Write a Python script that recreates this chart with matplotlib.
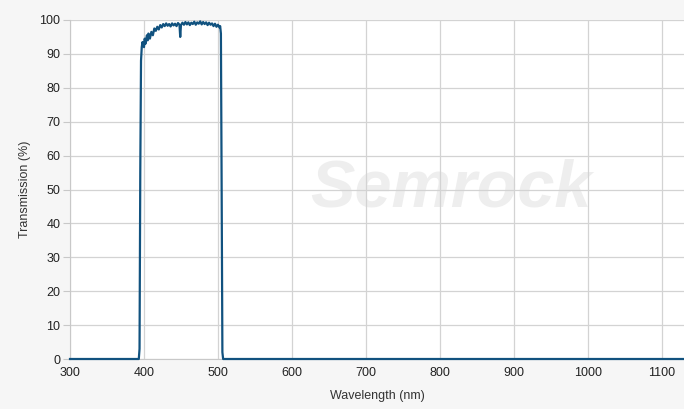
import matplotlib
matplotlib.use("Agg")
import matplotlib.pyplot as plt

# wavelength (nm) and transmission (%)
wavelength = [300, 393, 394, 395, 396, 397, 398, 400, 401, 402, 404, 405, 406,
              408, 410, 412, 414, 416, 418, 420, 422, 424, 426, 428, 430, 432,
              434, 436, 438, 440, 442, 444, 446, 448, 449, 450, 452, 454, 456,
              458, 460, 462, 464, 466, 468, 470, 472, 474, 476, 478, 480, 482,
              484, 486, 488, 490, 492, 494, 496, 498, 500, 502, 503, 504, 505,
              506, 507, 1130]
transmission = [0, 0, 3, 55, 88, 92, 93.5, 92, 94.5, 93, 95.5, 94, 96,
                94.5, 96.5, 95.5, 97.5, 96.8, 98, 97.2, 98.5, 97.8, 98.8, 98.2, 99, 98.3,
                98.8, 98.1, 99, 98.4, 98.9, 98.2, 99.1, 98.6, 95, 98.5, 99.2, 98.6, 99.4,
                98.7, 99.3, 98.5, 99.2, 98.8, 99.5, 98.6, 99.3, 98.9, 99.6, 98.7, 99.4, 98.8,
                99.3, 98.5, 99.2, 98.6, 99.0, 98.2, 98.9, 98.0, 98.6, 97.8, 98.2, 96, 50,
                2, 0, 0]

x_ticks = [300, 400, 500, 600, 700, 800, 900, 1000, 1100]
y_ticks = [0, 10, 20, 30, 40, 50, 60, 70, 80, 90, 100]


def main():
    plt.rcParams['font.family'] = ['Liberation Sans', 'DejaVu Sans']
    fig = plt.figure(figsize=(6.84, 4.09), dpi=100, facecolor='#f6f6f6')
    ax = fig.add_axes([70 / 684, 1 - 359 / 409, 614 / 684, 339 / 409])
    ax.set_facecolor('white')

    # faint watermark
    ax.text(0.62, 0.5, 'Semrock', transform=ax.transAxes, fontsize=48,
            fontweight='bold', fontstyle='italic', color='#eeeeee',
            ha='center', va='center', zorder=0.5)

    ax.plot(wavelength, transmission, color='#11527f', linewidth=1.6,
            zorder=3, clip_on=False)

    ax.set_xlim(300, 1130)
    ax.set_ylim(0, 100)
    ax.set_xticks(x_ticks)
    ax.set_yticks(y_ticks)
    ax.grid(True, color='#d3d3d3', linewidth=0.9, zorder=1)
    ax.set_axisbelow(True)
    for s in ['top', 'right']:
        ax.spines[s].set_visible(False)
    ax.spines['left'].set_color('#c8c8c8')
    ax.spines['bottom'].set_color('#c8c8c8')
    ax.tick_params(axis='x', length=0, pad=6, labelsize=9, labelcolor='#222222')
    ax.tick_params(axis='y', length=5, color='#c8c8c8', pad=2, labelsize=9,
                   labelcolor='#222222')

    ax.set_xlabel('Wavelength (nm)', fontsize=9, color='#333333', labelpad=8)
    ax.set_ylabel('Transmission (%)', fontsize=9, color='#333333', labelpad=6)

    fig.savefig('out.png', dpi=100, facecolor=fig.get_facecolor())
    plt.close()


if __name__ == '__main__':
    main()
